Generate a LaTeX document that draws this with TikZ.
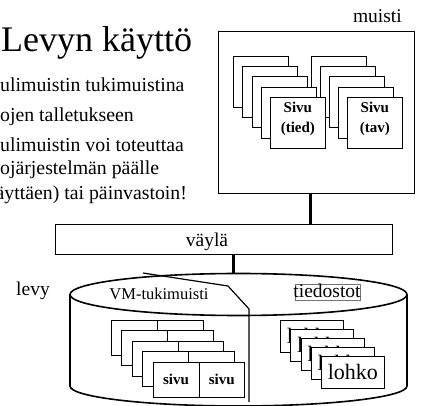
\documentclass[tikz,border=0pt]{standalone}
\usepackage{fontspec}
\setmainfont{Liberation Serif}
\begin{document}
\begin{tikzpicture}[x=1pt,y=-1pt]
\tikzset{
  pg/.style={draw=black, line width=0.7pt, fill=white, inner sep=0pt, anchor=north west},
  mpg/.style={pg, minimum width=55pt, minimum height=51pt},
  vpg/.style={pg, minimum width=91.6pt, minimum height=35pt},
  vhalf/.style={pg, minimum width=45.8pt, minimum height=35pt, font=\bfseries\fontsize{15}{18}\selectfont},
  lpg/.style={pg, minimum width=63pt, minimum height=32pt, font=\fontsize{22}{24}\selectfont},
  bus/.style={line width=3pt},
  lbl/.style={font=\fontsize{19.5}{22}\selectfont, inner sep=0pt},
  blt/.style={font=\fontsize{19.8}{22}\selectfont, inner sep=0pt, anchor=base west},
  sivtxt/.style={font=\bfseries\fontsize{15}{20}\selectfont, align=center, inner sep=0pt},
  box/.style={draw=black, line width=0.9pt, inner sep=0pt, anchor=north west},
  cyl/.style={line width=1.6pt},
}
\useasboundingbox (0,0) rectangle (424,406);

% title and text
\node[font=\fontsize{36}{40}\selectfont, inner sep=0pt, anchor=base west] (title) at (1,52) {Levyn käyttö};
\node[blt] (t1) at (0,92) {ulimuistin tukimuistina};
\node[blt] (t2) at (0,122) {ojen talletukseen};
\node[blt] (t3) at (0,152) {ulimuistin voi toteuttaa};
\node[blt] (t4) at (0,175) {ojärjestelmän päälle};
\node[blt] (t5) at (-14.5,200) {käyttäen) tai päinvastoin!};

% memory
\node[lbl, anchor=base east] (mlabel) at (402,23) {muisti};
\node[box, minimum width=196pt, minimum height=162pt] (muisti) at (218,31) {};

% right stack first
\foreach \i in {0,...,3} {
  \node[mpg] (mr\i) at ({311+9*\i},{56+10.25*\i}) {};
}
\node[mpg] (mrf) at (347,97) {};
\node[sivtxt] (mrtxt) at ([yshift=3.5pt]mrf.center) {Sivu\\(tav)};
% left stack
\foreach \i in {0,...,3} {
  \node[mpg] (ml\i) at ({233+9.25*\i},{56+10.25*\i}) {};
}
\node[mpg] (mlf) at (270,97) {};
\node[sivtxt] (mltxt) at ([yshift=3.5pt]mlf.center) {Sivu\\(tied)};

% bus
\node[box, minimum width=337pt, minimum height=30pt] (vayla) at (55,224) {};
\node[lbl, anchor=base] (vtxt) at (207,247) {väylä};
\coordinate (bx1) at (310,0);
\draw[bus] (bx1 |- muisti.south) -- (bx1 |- vayla.north);

% disk
\node[lbl, anchor=base west] (levy) at (16,296) {levy};
\coordinate (disktop) at (233,273.6);
\draw[bus] (disktop |- vayla.south) -- (disktop);
\draw[cyl] (238.5,294.5) ellipse [x radius=168.5pt, y radius=21pt];
\coordinate (dl) at (70,294.5);
\coordinate (dr) at (407,294.5);
\coordinate (dbl) at (70,386);
\coordinate (dbr) at (407,386);
\draw[cyl] (dl) -- (dbl) arc[start angle=180, end angle=360, x radius=168.5pt, y radius=20pt] -- (dr);
% divider
\coordinate (d1) at (143,273);
\coordinate (d2) at (228,286);
\coordinate (d3) at (249,309);
\coordinate (d4) at (249,402);
\draw[line width=1.2pt] (d1) -- (d2) -- (d3) -- (d4);

\node[font=\fontsize{16.5}{18}\selectfont, inner sep=0pt, anchor=base] (vmtxt) at (159,300) {VM-tukimuisti};
\node[draw=black!55, line width=0.6pt, inner sep=0pt, minimum width=65pt, minimum height=16pt, anchor=north west] (tbox) at (295,284) {};
\node[lbl, anchor=base] (ttxt) at (327,298) {tiedostot};

% VM stack
\foreach \i in {0,...,3} {
  \node[vpg] (v\i) at ({111+10.4*\i},{320+10.4*\i}) {};
  \draw[line width=0.7pt] (v\i.north) -- (v\i.south);
}
\node[vhalf] (vf1) at (152.7,361.7) {sivu};
\node[vhalf] (vf2) at (198.5,361.7) {sivu};

% lohko stack
\foreach \i in {0,...,3} {
  \node[lpg] (l\i) at ({280+10.25*\i},{320+9*\i}) {lohko};
}
\node[lpg] (lf) at (321,356) {lohko};
\end{tikzpicture}
\end{document}
